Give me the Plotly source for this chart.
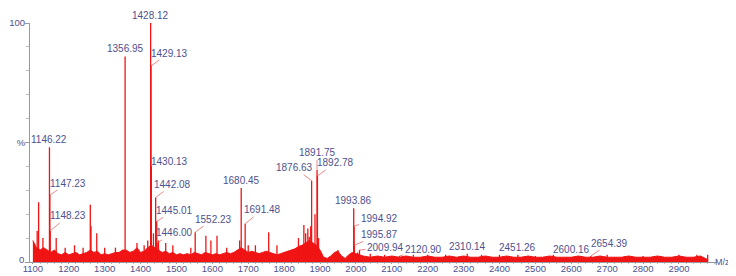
import plotly.graph_objects as go

# ---------------- data ----------------
# labelled peaks (m/z, relative intensity %)
label_mz = [1146.22, 1147.23, 1148.23, 1356.95, 1428.12, 1429.13, 1430.13, 1442.08,
            1445.01, 1446.00, 1552.23, 1680.45, 1691.48, 1876.63, 1891.75, 1892.78,
            1993.86, 1994.92, 1995.87, 2009.94, 2120.90, 2310.14, 2451.26, 2600.16, 2654.39]
label_int = [48, 28, 13, 86, 100, 82, 40, 27,
             17, 8, 12.5, 31, 16, 34, 38.5, 36,
             22.5, 15, 7, 5, 2.5, 3.5, 3, 2, 2.5]
label_text = ["1146.22", "1147.23", "1148.23", "1356.95", "1428.12", "1429.13", "1430.13", "1442.08",
              "1445.01", "1446.00", "1552.23", "1680.45", "1691.48", "1876.63", "1891.75", "1892.78",
              "1993.86", "1994.92", "1995.87", "2009.94", "2120.90", "2310.14", "2451.26", "2600.16", "2654.39"]

# unlabelled minor peaks
minor_mz = [1112, 1116, 1128, 1165, 1190, 1216, 1240, 1260, 1262, 1278, 1300, 1330, 1390, 1410,
            1420, 1436, 1450, 1470, 1490, 1540, 1582, 1596, 1613, 1640, 1676, 1700, 1720, 1757,
            1780, 1840, 1855, 1860, 1866, 1870, 1874, 1886, 1896, 1950, 2005, 2040, 2080, 2160,
            2200, 2250, 2350, 2400, 2500, 2550, 2700, 2750, 2800, 2850, 2900, 2950, 2980]
minor_int = [13, 25, 10, 10, 6, 7, 6, 24, 15, 12, 6, 6, 8, 7,
             9, 12, 9, 8, 7, 6, 11, 9, 11, 6, 9, 7, 7, 12.5,
             7, 10, 15.5, 12, 14, 10.5, 15, 20, 10, 5, 4, 3.5, 3, 3,
             3, 3, 3, 3, 2.5, 3, 3, 2.5, 2.5, 2.5, 3, 3, 3]

# baseline noise envelope
noise_mz = [1100, 1110, 1120, 1130, 1140, 1150, 1160, 1170, 1180, 1190,
            1200, 1210, 1220, 1230, 1240, 1250, 1260, 1270, 1280, 1290,
            1300, 1310, 1320, 1330, 1340, 1350, 1360, 1370, 1380, 1390,
            1400, 1410, 1420, 1430, 1440, 1450, 1460, 1470, 1480, 1490,
            1500, 1510, 1520, 1530, 1540, 1550, 1560, 1570, 1580, 1590,
            1600, 1610, 1620, 1630, 1640, 1650, 1660, 1670, 1680, 1690,
            1700, 1710, 1720, 1730, 1740, 1750, 1760, 1770, 1780, 1790,
            1800, 1810, 1820, 1830, 1840, 1850, 1860, 1870, 1880, 1890,
            1900, 1910, 1920, 1930, 1940, 1950, 1960, 1970, 1980, 1990,
            2000, 2020, 2040, 2060, 2080, 2100, 2120, 2140, 2160, 2180,
            2200, 2220, 2240, 2260, 2280, 2300, 2320, 2340, 2360, 2380,
            2400, 2420, 2440, 2460, 2480, 2500, 2520, 2540, 2560, 2580,
            2600, 2620, 2640, 2660, 2680, 2700, 2720, 2740, 2760, 2780,
            2800, 2820, 2840, 2860, 2880, 2900, 2920, 2940, 2960, 2980]
noise_int = [9, 6, 5, 6, 5, 4, 5, 3.5, 3, 4,
             3, 3.5, 4, 3, 3.5, 4, 5, 4, 4.5, 3,
             3.5, 3, 3.5, 4, 4, 5, 5, 4, 4.5, 6,
             4, 4.5, 6, 7, 6, 5, 4, 4.5, 3.5, 4,
             3, 3.5, 3, 3.5, 3, 4, 3.5, 3, 4, 3.5,
             3, 3.5, 3, 3.5, 4, 3.5, 4, 5, 6, 5,
             4, 4.5, 4, 3.5, 4, 4.5, 4, 3.5, 3, 3.5,
             4, 4.5, 5, 5.5, 6.5, 7, 8, 9, 8, 7,
             5, 2, 1.5, 2.5, 4, 4.5, 2.5, 1.5, 3, 4,
             3.5, 2.5, 2, 2.5, 2, 2.5, 2, 2.5, 2, 2,
             2.5, 2, 2, 2.5, 2, 2.5, 2, 2, 2.5, 2,
             2, 2.5, 2, 2, 2.5, 2, 2, 2.5, 2, 2,
             2, 2.5, 2, 2, 2.5, 2, 2, 2, 2.5, 2,
             2, 2, 2.5, 2, 2, 2.5, 2, 2, 2.5, 1]

x_ticks = [1100, 1200, 1300, 1400, 1500, 1600, 1700, 1800, 1900, 2000,
           2100, 2200, 2300, 2400, 2500, 2600, 2700, 2800, 2900]
y_tickvals = [0, 50, 100]
y_ticktext = ["0", "%", "100"]

# ---------------- styling ----------------
RED = "#f01414"
TXT = "#4d518e"
FONT = "Liberation Sans, Arial, sans-serif"

# label offsets in pixels (ax, ay) ; None -> no leader, text sits right on top
label_offsets = [None, (18, -12), (18, -15), None, None, (18, -13), (18, -5), (17, -13),
                 (18, -11), (17, -10), (18, -13), None, (17, -14), (-17, -13), (0, -17), (18, -13),
                 None, (25, -8), (25, -11), (26, -3), (24, -7), None, None, None, (19, -13)]

# ---------------- figure ----------------
fig = go.Figure()

fig.add_trace(go.Scatter(
    x=noise_mz, y=noise_int, mode="lines", fill="tozeroy",
    line=dict(color=RED, width=1.0), fillcolor=RED, hoverinfo="skip"))

sx, sy = [], []
for m, h in list(zip(minor_mz, minor_int)) + list(zip(label_mz, label_int)):
    sx += [m, m, None]
    sy += [0, h, None]
fig.add_trace(go.Scatter(x=sx, y=sy, mode="lines",
                         line=dict(color=RED, width=1.3), hoverinfo="skip"))

for m, h, t, off in zip(label_mz, label_int, label_text, label_offsets):
    if off is None:
        fig.add_annotation(x=m, y=h, xref="x", yref="y", text=t, showarrow=False,
                           yanchor="bottom", xanchor="center", yshift=0,
                           font=dict(family=FONT, size=10, color=TXT))
    else:
        fig.add_annotation(x=m, y=h, xref="x", yref="y", text=t, showarrow=True,
                           ax=off[0], ay=off[1], arrowhead=0, arrowwidth=0.8,
                           arrowcolor="rgba(235,90,90,0.9)", standoff=0,
                           font=dict(family=FONT, size=10, color=TXT))

fig.add_annotation(x=1, y=0, xref="paper", yref="y", text="M/z", showarrow=False,
                   xanchor="left", yanchor="middle", xshift=-3, borderpad=0,
                   font=dict(family=FONT, size=9, color=TXT))

# the "0" of the y axis is lifted slightly so it clears the first x tick label
fig.add_annotation(x=0, y=y_tickvals[0], xref="paper", yref="y", text=y_ticktext[0],
                   showarrow=False, xanchor="right", yanchor="middle",
                   xshift=-5, yshift=3, borderpad=0,
                   font=dict(family=FONT, size=9.5, color=TXT))

# the page body adds an 8px margin, so the figure is sized to fit the window
fig.update_layout(
    width=728, height=268,
    margin=dict(l=22, r=19, t=15, b=14, autoexpand=False),
    paper_bgcolor="white", plot_bgcolor="white",
    showlegend=False,
    font=dict(family=FONT, size=10, color=TXT),
)
fig.update_xaxes(range=[1092, 3006], tickvals=x_ticks, ticks="outside", ticklen=1,
                 tickcolor="#999", showline=True, linecolor="#999", linewidth=1,
                 showgrid=False, zeroline=False, layer="below traces", automargin=False,
                 ticklabelstandoff=-3,
                 tickfont=dict(family=FONT, size=9.5, color=TXT),
                 minor=dict(dtick=20, ticks="outside", ticklen=1, tickcolor="#bbb"))
fig.update_yaxes(range=[0, 100], tickvals=y_tickvals, ticktext=[""] + y_ticktext[1:],
                 ticks="outside", ticklen=4, tickcolor="#999",
                 showline=True, linecolor="#999", linewidth=1,
                 showgrid=False, zeroline=False, layer="below traces", automargin=False,
                 ticklabelstandoff=-2,
                 tickfont=dict(family=FONT, size=9.5, color=TXT),
                 minor=dict(dtick=10, ticks="outside", ticklen=3, tickcolor="#bbb"))

fig.write_html("out.html")
